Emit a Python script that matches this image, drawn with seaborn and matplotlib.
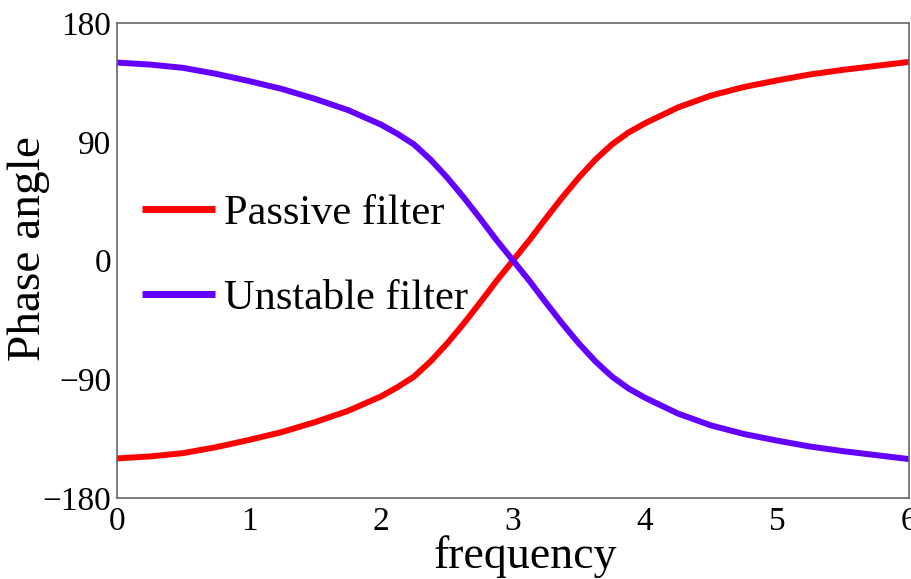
import matplotlib
matplotlib.use("Agg")
import matplotlib.pyplot as plt
import seaborn as sns
import pandas as pd

freq = [0, 0.25, 0.5, 0.75, 1, 1.25, 1.5, 1.75, 2, 2.125, 2.25, 2.375, 2.5, 2.625, 2.75, 2.875, 3,
        3.125, 3.25, 3.375, 3.5, 3.625, 3.75, 3.875, 4, 4.25, 4.5, 4.75, 5, 5.25, 5.5, 5.75, 6]
passive = [-150, -148.5, -146, -141.5, -136, -130, -122.5, -114, -103, -96, -88, -76.5, -63, -48, -32, -15.5, 0,
           15.5, 32, 48, 63, 76.5, 88, 97, 104, 116, 125, 131.5, 136.5, 141, 144.5, 147.5, 150.5]
unstable = [150, 148.5, 146, 141.5, 136, 130, 122.5, 114, 103, 96, 88, 76.5, 63, 48, 32, 15.5, 0,
            -15.5, -32, -48, -63, -76.5, -88, -97, -104, -116, -125, -131.5, -136.5, -141, -144.5, -147.5, -150.5]
series_names = ["Passive filter", "Unstable filter"]
colors = ["#ff0000", "#6400ff"]
xticks = [0, 1, 2, 3, 4, 5, 6]
yticks = [-180, -90, 0, 90, 180]

df = pd.concat([
    pd.DataFrame({"frequency": freq, "phase": passive, "series": series_names[0]}),
    pd.DataFrame({"frequency": freq, "phase": unstable, "series": series_names[1]}),
])

sns.set_style("white")
plt.rcParams["font.family"] = ["Liberation Serif", "DejaVu Serif"]
plt.rcParams["text.color"] = "black"
plt.rcParams["axes.labelcolor"] = "black"
plt.rcParams["lines.solid_capstyle"] = "butt"
plt.rcParams["lines.solid_joinstyle"] = "round"

fig = plt.figure(figsize=(9.11, 5.79), dpi=100)
ax = fig.add_axes([117/911, 1-498/579, (909-117)/911, (498-23)/579])

sns.lineplot(data=df, x="frequency", y="phase", hue="series",
             palette=dict(zip(series_names, colors)), linewidth=4.3, ax=ax)

ax.set_xlim(0, 6)
ax.set_ylim(-180, 180)
ax.set_xticks(xticks)
ax.set_yticks(yticks)
ax.set_xticklabels([str(t) for t in xticks])
ax.set_yticklabels([str(t).replace("-", "\u2212") for t in yticks])
ax.tick_params(direction="in", length=6.5, width=1, colors="#555555",
               labelcolor="black", labelsize=24, pad=4)
ax.tick_params(axis="x", pad=6)
for s in ax.spines.values():
    s.set_color("#666666")
    s.set_linewidth(1.2)

ax.set_xlabel("frequency", fontsize=33, color="black")
ax.xaxis.set_label_coords(0.516, -0.078)
ax.set_ylabel("Phase angle", fontsize=34, color="black")
ax.yaxis.set_label_coords(-0.085, 0.525)

leg = ax.legend(loc="center left", bbox_to_anchor=(0.032, 0.509), frameon=False,
                fontsize=30.5, handlelength=1.72, handletextpad=0.2,
                labelspacing=1.1, borderpad=0, borderaxespad=0)
for h in leg.get_lines():
    h.set_linewidth(5)
for t in leg.get_texts():
    t.set_color("black")

fig.savefig("out.png", dpi=100)
